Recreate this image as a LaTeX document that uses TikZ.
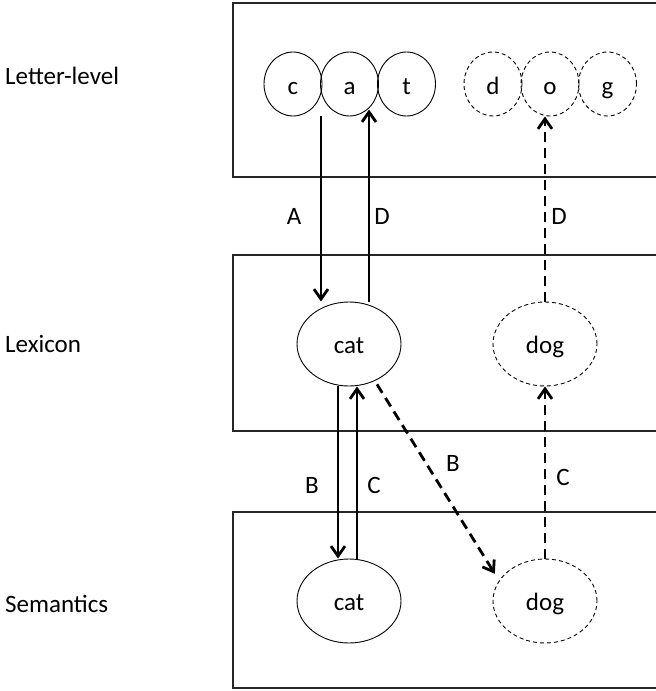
\documentclass[tikz,border=0pt]{standalone}
\usepackage{fontspec}
\setmainfont{Carlito}
\usetikzlibrary{shapes.geometric,arrows.meta}
\begin{document}
\begin{tikzpicture}[x=1pt,y=-1pt,
  every node/.style={font=\fontsize{25}{30}\selectfont},
  layer/.style={line width=1.3pt, draw=black!85},
  letter/.style={ellipse, draw, line width=0.9pt, minimum width=58pt, minimum height=64pt, inner sep=0pt, text height=24pt, text depth=3pt},
  word/.style={ellipse, draw, line width=0.9pt, minimum width=104pt, minimum height=84pt, inner sep=0pt, text height=21pt, text depth=3pt},
  ghost/.style={dash pattern=on 4pt off 3pt},
  arr/.style={line width=2.8pt, -{Straight Barb[length=10pt,width=14pt]}},
  darr/.style={arr, dash pattern=on 10pt off 6pt}]
\useasboundingbox (0,0) rectangle (656,691);
% layers
\draw[layer] (660,3) -- (233,3) -- (233,177) -- (660,177);
\draw[layer] (660,255) -- (233,255) -- (233,431) -- (660,431);
\draw[layer] (660,512) -- (233,512) -- (233,688) -- (660,688);
% level labels
\node[anchor=base west, inner sep=0pt] (ll) at (5,84) {Letter-level};
\node[anchor=base west, inner sep=0pt] (lx) at (5,352) {Lexicon};
\node[anchor=base west, inner sep=0pt] (sm) at (5,612) {Semantics};
% letters
\node[letter] (c) at (293,84) {c};
\node[letter] (a) at (349.5,84) {a};
\node[letter] (t) at (406.5,84) {t};
\node[letter,ghost] (d) at (493,84) {d};
\node[letter,ghost] (o) at (550,84) {o};
\node[letter,ghost] (g) at (607.5,84) {g};
% words
\node[word] (lexcat) at (349,344) {cat};
\node[word,ghost] (lexdog) at (545,344) {dog};
\node[word] (semcat) at (349,601) {cat};
\node[word,ghost] (semdog) at (545,601) {dog};
% connectors
\draw[arr] ([xshift=28pt]c.south) -- ([xshift=28pt]c.south |- lexcat.north);
\draw[arr] ([xshift=20pt]lexcat.north) -- ++(0,-192);
\draw[darr] (lexdog.north) -- (lexdog.north |- o.south);
\draw[arr] ([xshift=-11pt]lexcat.south) -- ([xshift=-11pt]lexcat.south |- semcat.north);
\draw[arr] ([xshift=8pt]semcat.north) -- ([xshift=8pt]semcat.north |- lexcat.south);
\draw[darr, shorten <=4pt, shorten >=8pt] (lexcat.-55) -- (semdog.156);
\draw[darr] (semdog.north) -- (lexdog.south);
% connector labels
\node (lA) at (294,216) {A};
\node (lD) at (382,216) {D};
\node (lD2) at (559,216) {D};
\node (lB) at (312,485) {B};
\node (lC) at (374,485) {C};
\node (lB2) at (453,463) {B};
\node (lC2) at (563,477) {C};
\end{tikzpicture}
\end{document}
